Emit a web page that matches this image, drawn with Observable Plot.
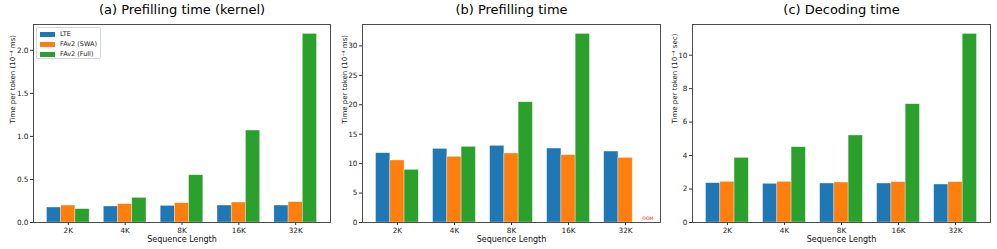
<!DOCTYPE html>
<html>
<head>
<meta charset="utf-8">
<script src="https://cdn.jsdelivr.net/npm/d3@7"></script>
<script src="https://cdn.jsdelivr.net/npm/@observablehq/plot@0.6"></script>
<style>
  html, body { margin: 0; padding: 0; background: #fff; }
  #root { position: relative; width: 997px; height: 249px; font-family: "DejaVu Sans", sans-serif; }
  #root svg { position: absolute; top: 0; overflow: visible; font-family: "DejaVu Sans", sans-serif; }
  .legend { position: absolute; border: 0.8px solid #d6d6d6; border-radius: 2px; background: rgba(255,255,255,0.85); font-size: 6.5px; color: #222; padding: 1px 4px 1px 3px; box-sizing: border-box; white-space: nowrap; }
  .legend .row { display: flex; align-items: center; height: 10px; white-space: nowrap; }
  .legend .sw { width: 15px; height: 5px; margin-right: 5px; flex: none; }
</style>
</head>
<body>
<div id="root"></div>
<script>
// ---- data ----
const categories = ["2K", "4K", "8K", "16K", "32K"];
const series = ["LTE", "FAv2 (SWA)", "FAv2 (Full)"];
const colors = ["#1f77b4", "#ff7f0e", "#2ca02c"];

// (a) Prefilling time (kernel), 10^-4 ms
const kernelLTE  = [0.174, 0.186, 0.193, 0.197, 0.197];
const kernelSWA  = [0.197, 0.213, 0.224, 0.232, 0.236];
const kernelFull = [0.155, 0.286, 0.549, 1.068, 2.19];

// (b) Prefilling time, 10^-4 ms  (32K Full: OOM)
const prefillLTE  = [11.77, 12.50, 13.02, 12.56, 12.05];
const prefillSWA  = [10.53, 11.15, 11.72, 11.43, 10.98];
const prefillFull = [8.94, 12.85, 20.43, 32.03, null];

// (c) Decoding time, 10^-4 sec
const decodeLTE  = [2.35, 2.31, 2.33, 2.33, 2.27];
const decodeSWA  = [2.43, 2.43, 2.39, 2.41, 2.41];
const decodeFull = [3.86, 4.50, 5.20, 7.07, 11.27];

const panels = [
  {title: "(a) Prefilling time (kernel)", ylabel: "Time per token (10⁻⁴ ms)", values: [kernelLTE, kernelSWA, kernelFull],
   yticks: [0, 0.5, 1.0, 1.5, 2.0], fmt: d3.format(".1f"), left: 0, width: 331, ml: 33, mr: 1, labelDx: -21},
  {title: "(b) Prefilling time", ylabel: "Time per token (10⁻⁴ ms)", values: [prefillLTE, prefillSWA, prefillFull],
   yticks: [0, 5, 10, 15, 20, 25, 30], fmt: d3.format("d"), left: 330, width: 331, ml: 32, mr: 1, labelDx: -18, oom: true},
  {title: "(c) Decoding time", ylabel: "Time per token (10⁻⁴ sec)", values: [decodeLTE, decodeSWA, decodeFull],
   yticks: [0, 2, 4, 6, 8, 10], fmt: d3.format("d"), left: 660, width: 337, ml: 32, mr: 7, labelDx: -18}
];

const barW = 0.25;
const root = document.getElementById("root");

for (const p of panels) {
  const rows = [];
  p.values.forEach((arr, j) => arr.forEach((v, i) => {
    rows.push({cat: categories[i], i, series: series[j], j, value: v});
  }));
  const maxV = d3.max(rows, d => d.value);
  const bars = rows.filter(d => d.value != null);
  const oomRows = rows.filter(d => d.value == null);

  const chart = Plot.plot({
    width: p.width,
    height: 249,
    marginLeft: p.ml,
    marginRight: p.mr,
    marginTop: 24,
    marginBottom: 27,
    style: {fontFamily: "DejaVu Sans, sans-serif", background: "transparent", color: "#222"},
    x: {domain: [-0.6125, 4.6125], axis: null},
    y: {domain: [0, maxV * 1.05], axis: null},
    color: {domain: series, range: colors},
    marks: [
      Plot.rect(bars, {
        x1: d => d.i + (d.j - 1) * barW - barW / 2,
        x2: d => d.i + (d.j - 1) * barW + barW / 2,
        y1: 0, y2: "value", fill: "series",
        stroke: "white", strokeWidth: 0.6, strokeOpacity: 0.55
      }),
      p.oom ? Plot.text(oomRows, {
        x: d => d.i + (d.j - 1) * barW, y: 0, text: () => "OOM",
        fill: "red", fontSize: 4.6, textAnchor: "start", dx: 2.5, dy: -2.5, lineAnchor: "bottom"
      }) : null,
      Plot.axisX({ticks: d3.range(categories.length), tickFormat: i => categories[i], tickSize: 3, tickPadding: 2, fontSize: 7.3, label: null, stroke: "#333"}),
      Plot.axisY({ticks: p.yticks, tickFormat: p.fmt, tickSize: 3, tickPadding: 2, fontSize: 7.3, label: null, stroke: "#333"}),
      Plot.frame({stroke: "#3a3a3a", strokeWidth: 0.9}),
      Plot.text([p.title], {frameAnchor: "top", text: d => d, dy: -11, lineAnchor: "bottom", fontSize: 13, fill: "#000"}),
      Plot.text(["Sequence Length"], {frameAnchor: "bottom", text: d => d, dy: 16.5, lineAnchor: "middle", fontSize: 8, fill: "#111"}),
      Plot.text([p.ylabel], {frameAnchor: "left", text: d => d, rotate: -90, dx: p.labelDx, lineAnchor: "middle", fontSize: 7, fill: "#111"})
    ]
  });
  chart.style.left = p.left + "px";
  root.appendChild(chart);
}

// legend inside panel (a)
const lg = document.createElement("div");
lg.className = "legend";
lg.style.left = "36px";
lg.style.top = "27px";
lg.style.width = "65px";
lg.style.height = "32px";
series.forEach((s, k) => {
  const row = document.createElement("div");
  row.className = "row";
  const sw = document.createElement("div");
  sw.className = "sw";
  sw.style.background = colors[k];
  const t = document.createElement("span");
  t.textContent = s;
  row.appendChild(sw);
  row.appendChild(t);
  lg.appendChild(row);
});
root.appendChild(lg);
</script>
</body>
</html>
